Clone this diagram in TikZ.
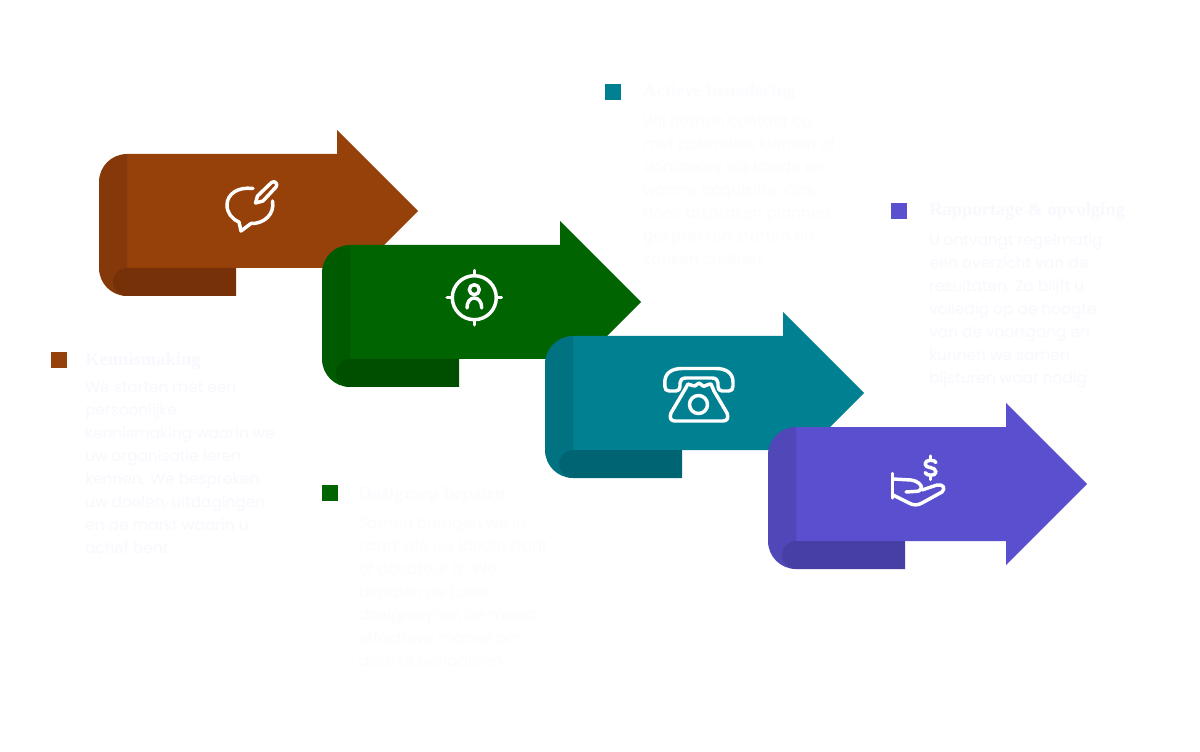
\documentclass[tikz,border=0pt]{standalone}
\usepackage{fontspec}
\setmainfont{Poppins}
\newfontfamily\titlefont{Liberation Serif}[BoldFont={Liberation Serif Bold}]
\definecolor{cbrownM}{HTML}{964109}
\definecolor{cbrownL}{HTML}{85390A}
\definecolor{cbrownB}{HTML}{773108}
\definecolor{cgreenM}{HTML}{006400}
\definecolor{cgreenL}{HTML}{005A00}
\definecolor{cgreenB}{HTML}{004F00}
\definecolor{ctealM}{HTML}{008091}
\definecolor{ctealL}{HTML}{007282}
\definecolor{ctealB}{HTML}{006473}
\definecolor{cpurpM}{HTML}{5A4FCF}
\definecolor{cpurpL}{HTML}{5047B8}
\definecolor{cpurpB}{HTML}{483FA5}
\definecolor{cfaintA}{HTML}{F8F8FE}
\definecolor{cfaintB}{HTML}{FCFCFF}
\tikzset{
  titletext/.style={anchor=base west,inner sep=0pt,font=\titlefont\bfseries\fontsize{13.9}{17}\selectfont},
  bodytext/.style={anchor=north west,inner sep=0pt,align=left,font=\fontsize{11.5}{17.25}\selectfont},
  marker/.style={minimum size=12pt,inner sep=0pt,outer sep=0pt,anchor=north west},
  icon/.style={draw=white,line width=2.6pt,line cap=round,line join=round,fill=none}
}
\newcommand{\ribbon}[5]{%
  \begin{scope}[shift={(#1,#2)}]
    \fill[#3] (127,154) -- (337,154) -- (337,130) -- (418,211) -- (337,292) -- (337,268) -- (127,268) -- cycle;
    \fill[#4] (127,154) .. controls (111.5,154) and (99,166.5) .. (99,182) -- (99,268) .. controls (99,283.5) and (111.5,296) .. (127,296) -- (127,154) -- cycle;
    \fill[#5] (236,268) -- (127,268) .. controls (119.3,268) and (113,274.3) .. (113,282) .. controls (113,289.7) and (119.3,296) .. (127,296) -- (236,296) -- cycle;
  \end{scope}}
\begin{document}
\begin{tikzpicture}[x=0.75pt,y=-0.75pt]
\useasboundingbox (0,0) rectangle (1200,752);
\fill[white] (0,0) rectangle (1200,752);
\ribbon{0}{0}{cbrownM}{cbrownL}{cbrownB}
\ribbon{223}{91}{cgreenM}{cgreenL}{cgreenB}
\ribbon{446}{182}{ctealM}{ctealL}{ctealB}
\ribbon{669}{273}{cpurpM}{cpurpL}{cpurpB}
% icon 1
\draw[icon] (253,188.5) .. controls (238,186.5) and (227,194) .. (227,205) .. controls (227,213) and (232,219) .. (239,222) -- (241,231) -- (251,223.5) .. controls (264,224) and (275,214) .. (272.5,201);
\draw[icon] (255.5,203) -- (257.5,196) -- (271.5,182.5) .. controls (274.5,180) and (278.5,184) .. (276,187) -- (263,201) -- cycle;
% icon 2
\draw[icon] (474.3,297.7) circle (22);
\draw[icon] (474.3,270.5) -- (474.3,275.7);
\draw[icon] (474.3,319.7) -- (474.3,324.9);
\draw[icon] (447.1,297.7) -- (452.3,297.7);
\draw[icon] (496.3,297.7) -- (501.5,297.7);
\draw[icon] (474.3,289.7) circle (5);
\draw[icon] (467,308) .. controls (467,302) and (470,298) .. (474.3,298) .. controls (478.6,298) and (481.7,302) .. (481.7,308);
% icon 3
\draw[icon] (669,391) .. controls (666,391) and (664.8,389) .. (664.8,386) -- (664.8,382) .. controls (664.8,373) and (672,368.5) .. (682,368.5) -- (716,368.5) .. controls (726,368.5) and (733,373) .. (733,382) -- (733,386) .. controls (733,389) and (731.5,391) .. (729,391) -- (722,391) .. controls (719.5,391) and (718,389) .. (718,386.5) -- (718,383) .. controls (718,380) and (716,378) .. (712,378) -- (686,378) .. controls (682,378) and (680,380) .. (680,383) -- (680,386.5) .. controls (680,389) and (678.5,391) .. (676,391) -- cycle;
\draw[icon] (688,384) .. controls (691,384) and (693,387) .. (695,386) .. controls (697,385) and (698,383) .. (699,383) .. controls (700,383) and (701,385) .. (703,386) .. controls (705,387) and (707,384) .. (711,384) -- (714,391) -- (727,413) .. controls (729,418) and (727,421) .. (723,421) -- (675,421) .. controls (671,421) and (669,418) .. (671,413) -- (684,391) -- cycle;
\draw[icon] (698.5,404.5) circle (9);
% icon 4
\draw[icon] (892.7,473.5) -- (892.7,498);
\draw[icon] (893,479) -- (911,480) .. controls (917,480.5) and (922,485) .. (921.5,488) .. controls (921,491) and (918,491.5) .. (914,491.5) -- (906,492);
\draw[icon] (922,490) -- (937,485) .. controls (943,484) and (946,488) .. (942,492) -- (922,503) .. controls (918,505.5) and (913,505.5) .. (909,503) -- (893,495);
\draw[icon] (936,462.5) .. controls (935,459.5) and (925,459) .. (925,464) .. controls (925,469) and (936,466) .. (936,472) .. controls (936,476.5) and (926,476) .. (925,472.5);
\draw[icon] (930.5,456) -- (930.5,459.5);
\draw[icon] (930.5,475.5) -- (930.5,479.5);
% markers
\node[marker,fill=cbrownM] (m1) at (51,352) {};
\node[marker,fill=cgreenM] (m2) at (322,485) {};
\node[marker,fill=ctealM] (m3) at (605,84) {};
\node[marker,fill=cpurpM] (m4) at (891,203) {};
% titles
\node[titletext,text=cfaintA] (t1) at (85,366) {Kennismaking};
\node[titletext,text=cfaintB] (t2) at (358,499) {Doelgroep bepalen};
\node[titletext,text=cfaintB] (t3) at (643,97) {Actieve benadering};
\node[titletext,text=cfaintA] (t4) at (929,216) {Rapportage \& opvolging};
% bodies
\node[bodytext,text=cfaintA] (b1) at (85,382) {We starten met een\\persoonlijke\\kennismaking waarin we\\uw organisatie leren\\kennen. We bespreken\\uw doelen, uitdagingen\\en de markt waarin u\\actief bent.};
\node[bodytext,text=cfaintB] (b2) at (358,517) {Samen brengen we in\\kaart wie uw ideale klant\\of donateur is. We\\bepalen de juiste\\doelgroep en de meest\\effectieve manier om\\deze te benaderen.};
\node[bodytext,text=cfaintB] (b3) at (643,115) {Wij nemen contact op\\met potentiële klanten of\\donateurs via koude én\\warme acquisitie. Ons\\doel: afspraken plannen,\\gesprekken starten en\\kansen creëren.};
\node[bodytext,text=cfaintA] (b4) at (929,234) {U ontvangt regelmatig\\een overzicht van de\\resultaten. Zo blijft u\\volledig op de hoogte\\van de voortgang en\\kunnen we samen\\bijsturen waar nodig.};
\end{tikzpicture}
\end{document}
